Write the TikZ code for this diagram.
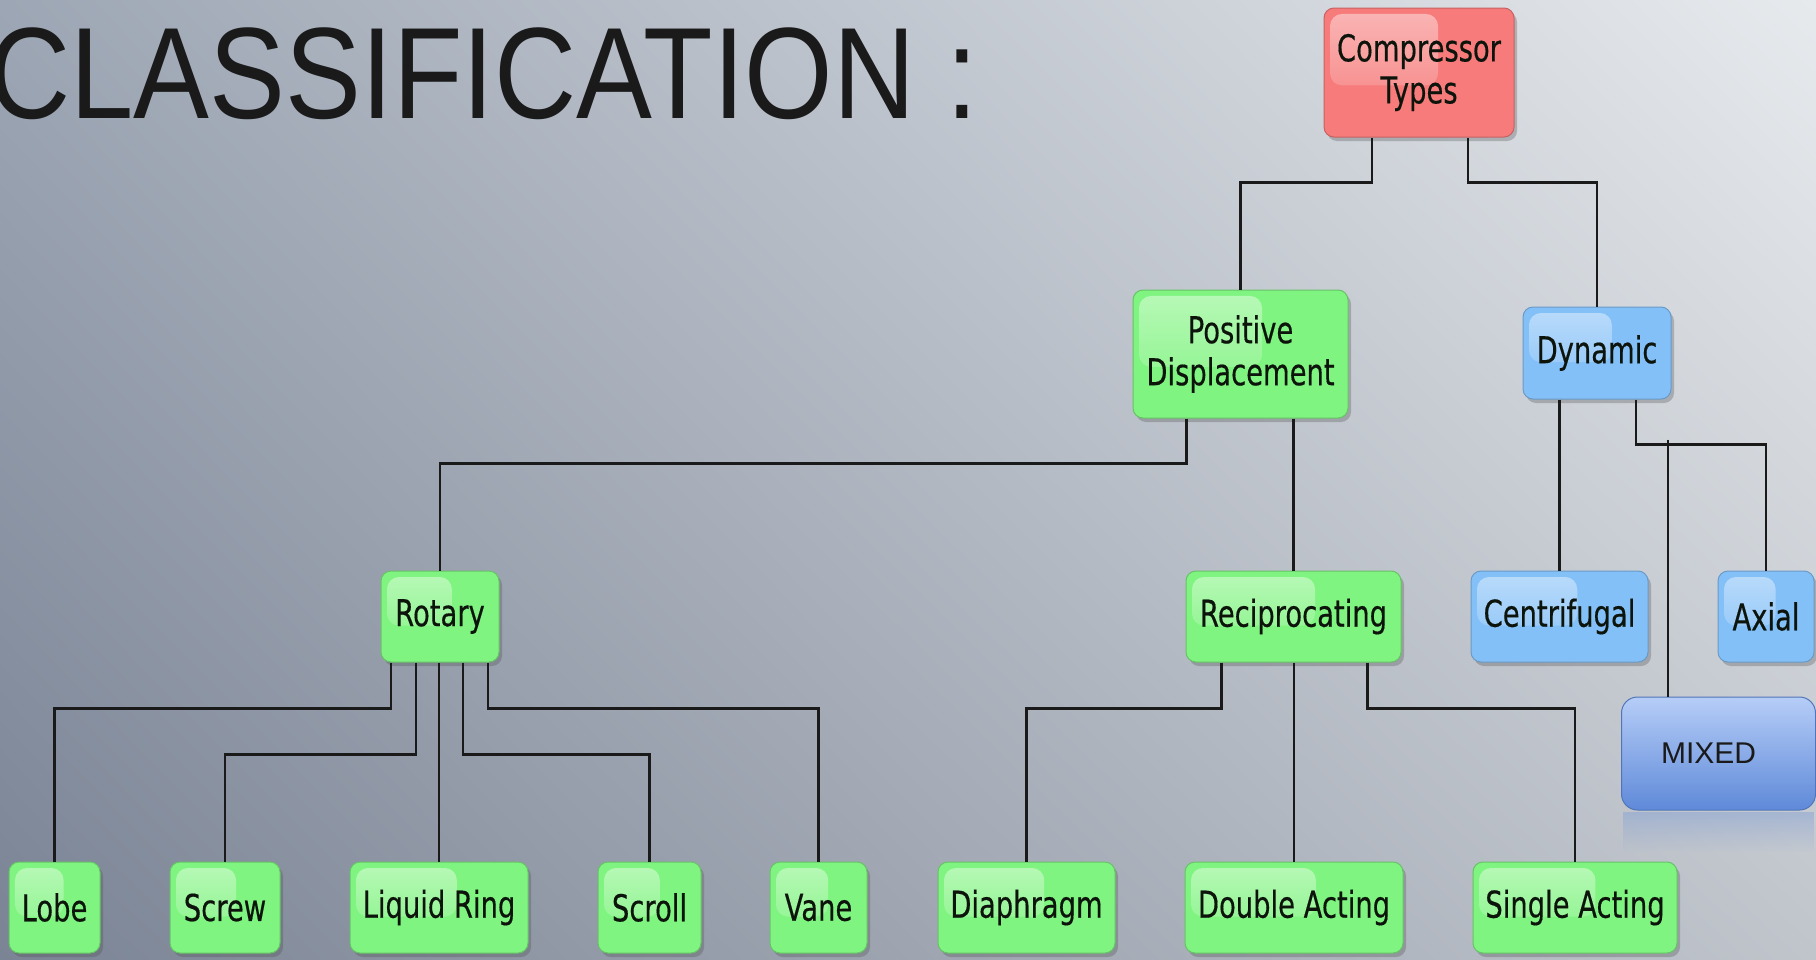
\documentclass[tikz,border=0pt]{standalone}
\usepackage{fontspec}
\usepackage{xcolor}
\usepackage{tikz}
\usetikzlibrary{positioning, calc, shadows, fadings, shadings}
\newfontfamily\boxfont[FakeStretch=0.74, FakeBold=0.4]{DejaVu Sans}
\newfontfamily\titlefont[FakeStretch=0.875]{Liberation Sans}
\newfontfamily\plainfont{Liberation Sans}
\definecolor{bgUL}{HTML}{9DA6B4}
\definecolor{bgUR}{HTML}{E7EAED}
\definecolor{bgLL}{HTML}{7B8495}
\definecolor{bgLR}{HTML}{C0C5CC}
\definecolor{boxgreen}{HTML}{80F480}
\definecolor{boxred}{HTML}{F77B7B}
\definecolor{boxblue}{HTML}{84C0F8}
\definecolor{boxtext}{HTML}{0C140C}
\definecolor{linecol}{HTML}{1A1A1A}
\definecolor{mixtop}{HTML}{B6CDF7}
\definecolor{mixbot}{HTML}{5F8AD9}
\tikzset{
    base/.style={font=\boxfont\fontsize{18.5pt}{21pt}\selectfont, text=boxtext, align=center,
        rounded corners=5pt, inner sep=0pt, line width=0.5pt,
        drop shadow={shadow xshift=1.5pt, shadow yshift=-2pt, opacity=0.3, fill=black!70},
        path picture={
            \fill[white, opacity=0.45, path fading=south, rounded corners=6pt]
                ([shift={(3pt,-3pt)}]path picture bounding box.north west) rectangle
                ($(path picture bounding box.south west)!0.4!(path picture bounding box.north west)
                  !0.6!($(path picture bounding box.south east)!0.4!(path picture bounding box.north east)$)$);
        }},
    greenbox/.style={base, fill=boxgreen, draw=boxgreen!80!black},
    redbox/.style={base, fill=boxred, draw=boxred!80!black},
    bluebox/.style={base, fill=boxblue, draw=boxblue!80!black},
    leafbox/.style={greenbox, minimum height=45.5pt},
    mixbox/.style={font=\plainfont\fontsize{15pt}{18pt}\selectfont, text=linecol,
        rounded corners=8pt, inner sep=0pt, top color=mixtop, bottom color=mixbot,
        draw=mixbot!85!black, line width=0.5pt},
    line/.style={draw=linecol, line width=1.3pt}
}

\begin{document}
\begin{tikzpicture}[x=0.5pt, y=0.5pt]
    \shade[upper left=bgUL, upper right=bgUR, lower left=bgLL, lower right=bgLR]
        (0,0) rectangle (1816,-959);
    \useasboundingbox (0,0) rectangle (1816,-959);

    \node[anchor=base west, inner sep=0pt, font=\titlefont\fontsize{65pt}{78pt}\selectfont, text=linecol]
        (Title) at (-12,-118) {CLASSIFICATION :};

    % top levels
    \node[redbox, minimum width=95pt, minimum height=64.5pt] (CT) at (1419,-72.5) {Compressor\\Types};
    \node[greenbox, minimum width=107.5pt, minimum height=64pt] (PD) at (1240.5,-354) {Positive\\Displacement};
    \node[bluebox, minimum width=74pt, minimum height=46pt] (Dyn) at (1597,-353) {Dynamic};

    \node[greenbox, minimum width=59pt, minimum height=45.5pt] (Rot) at (440,-616.5) {Rotary};
    \node[greenbox, minimum width=107.5pt, minimum height=45.5pt] (Rec) at (1293.5,-616.5) {Reciprocating};
    \node[bluebox, minimum width=88.5pt, minimum height=45.5pt] (Cen) at (1559.5,-616.5) {Centrifugal};
    \node[bluebox, minimum width=48pt, minimum height=45.5pt] (Axial) at (1766,-616.5) {Axial};

    \fill[mixbot!60!bgLR, opacity=0.5, path fading=south] (1623,-812) rectangle (1814,-852);
    \node[mixbox, minimum width=97pt, minimum height=56.5pt] (Mixed) at (1718.5,-753.5) {MIXED\hspace*{10pt}};

    % bottom row
    \node[leafbox, minimum width=45.5pt] (Lobe) at (54.5,-907.5) {Lobe};
    \node[leafbox, minimum width=55pt] (Screw) at (225,-907.5) {Screw};
    \node[leafbox, minimum width=89pt] (Liquid) at (439,-907.5) {Liquid Ring};
    \node[leafbox, minimum width=51.5pt] (Scroll) at (649.5,-907.5) {Scroll};
    \node[leafbox, minimum width=48.5pt] (Vane) at (818.5,-907.5) {Vane};
    \node[leafbox, minimum width=88.5pt] (Diaphragm) at (1026.5,-907.5) {Diaphragm};
    \node[leafbox, minimum width=109pt] (Double) at (1294,-907.5) {Double Acting};
    \node[leafbox, minimum width=102pt] (Single) at (1575,-907.5) {Single Acting};

    % connectors
    \draw[line] ($(CT.south)+(-47,0)$) -- ++(0,-45) -| (PD.north);
    \draw[line] ($(CT.south)+(49,0)$) -- ++(0,-45) -| (Dyn.north);

    \draw[line] ($(PD.south)+(-54,0)$) -- ++(0,-45) -| (Rot.north);
    \draw[line] (PD.south -| Rec.north) -- (Rec.north);

    \draw[line] (Dyn.south -| Cen.north) -- (Cen.north);
    \draw[line] ($(Dyn.south)+(39,0)$) -- ++(0,-45) -| (Axial.north);
    \coordinate (MixTop) at ($(Mixed.north)+(-50.5,0)$);
    \draw[line] ($(MixTop)+(0,257)$) -- (MixTop);

    \draw[line] ($(Rot.south)+(-49,0)$) -- ++(0,-46) -| (Lobe.north);
    \draw[line] ($(Rot.south)+(-24,0)$) -- ++(0,-92) -| (Screw.north);
    \draw[line] (Rot.south -| Liquid.north) -- (Liquid.north);
    \draw[line] ($(Rot.south)+(23,0)$) -- ++(0,-92) -| (Scroll.north);
    \draw[line] ($(Rot.south)+(48,0)$) -- ++(0,-46) -| (Vane.north);

    \draw[line] ($(Rec.south)+(-72,0)$) -- ++(0,-46) -| (Diaphragm.north);
    \draw[line] (Rec.south -| Double.north) -- (Double.north);
    \draw[line] ($(Rec.south)+(74,0)$) -- ++(0,-46) -| (Single.north);
\end{tikzpicture}
\end{document}
